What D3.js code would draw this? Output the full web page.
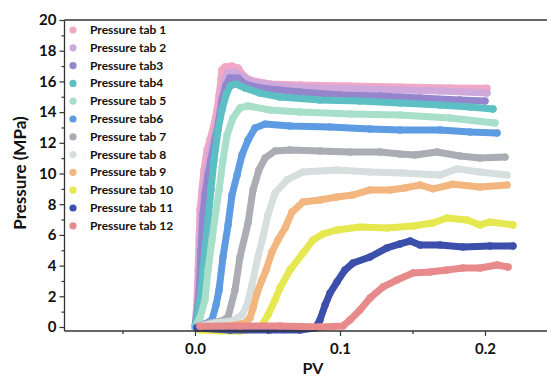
<!DOCTYPE html>
<html><head><meta charset="utf-8">
<script src="https://cdn.jsdelivr.net/npm/d3@7"></script>
<style>
body{margin:0;background:#fff;}
svg{display:block;font-family:Lato, "Open Sans", sans-serif;}
</style></head>
<body><svg id="c" width="547" height="376"></svg>
<script>
const seriesNames = ["Pressure tab 1","Pressure tab 2","Pressure tab3","Pressure tab4","Pressure tab 5","Pressure tab6","Pressure tab 7","Pressure tab 8","Pressure tab 9","Pressure tab 10","Pressure tab 11","Pressure tab 12"];
const seriesColors = ["#f0a8c6","#cfa8dc","#9585cc","#5cbfc4","#a8dfca","#5d9ce2","#abacb4","#d6dfdd","#f2b67e","#e6e850","#3c4fab","#e8898b"];
const xTicks = [0.0, 0.1, 0.2];
const xMinorTicks = [-0.05, 0.05, 0.15];
const yTicks = [0,2,4,6,8,10,12,14,16,18,20];
const yMinorTicks = [1,3,5,7,9,11,13,15,17,19];

const tab1 = [[0,0],[0.0014,1.76],[0.0021,3.71],[0.0028,5.67],[0.0034,7.62],[0.0048,8.93],[0.0062,10.23],[0.0083,11.53],[0.0103,12.18],[0.0131,13.16],[0.0152,14.14],[0.0166,15.11],[0.0179,16.09],[0.0186,16.74],[0.0207,16.94],[0.0255,17.0],[0.0297,16.87],[0.0331,16.42],[0.0379,16.09],[0.0517,15.83],[0.0724,15.77],[0.1069,15.70],[0.1414,15.64],[0.1759,15.57],[0.2014,15.55]];
const tab2 = [[0,0],[0.0021,1.76],[0.0028,3.71],[0.0034,5.67],[0.0048,7.62],[0.0062,8.93],[0.0083,10.23],[0.0103,11.40],[0.0124,12.18],[0.0152,13.16],[0.0172,14.14],[0.0186,15.11],[0.0207,16.09],[0.0228,16.55],[0.0276,16.61],[0.0324,16.35],[0.0393,15.96],[0.0586,15.70],[0.0862,15.57],[0.1138,15.50],[0.1414,15.44],[0.1690,15.37],[0.2014,15.24]];
const tab3 = [[0,0],[0.0021,1.43],[0.0034,3.06],[0.0041,5.02],[0.0055,7.30],[0.0069,8.60],[0.0090,9.90],[0.0110,10.88],[0.0138,12.18],[0.0166,13.49],[0.0186,14.79],[0.0214,15.77],[0.0241,16.22],[0.0297,16.22],[0.0345,15.83],[0.0448,15.57],[0.0724,15.31],[0.1000,15.11],[0.1276,15.05],[0.1552,14.92],[0.1828,14.79],[0.2000,14.72]];
const tab4 = [[0,0],[0.0014,0.78],[0.0034,1.76],[0.0055,3.71],[0.0069,5.02],[0.0090,6.97],[0.0110,8.93],[0.0131,10.88],[0.0159,12.83],[0.0186,14.14],[0.0214,15.11],[0.0241,15.70],[0.0283,15.83],[0.0345,15.57],[0.0448,15.24],[0.0586,14.98],[0.0862,14.79],[0.1138,14.72],[0.1414,14.59],[0.1690,14.46],[0.1897,14.33],[0.2055,14.20]];
const tab5 = [[0,0],[0.0034,0.59],[0.0069,1.76],[0.0090,3.71],[0.0117,5.67],[0.0145,7.62],[0.0166,8.93],[0.0193,10.88],[0.0221,12.51],[0.0262,13.62],[0.0310,14.27],[0.0366,14.40],[0.0517,14.14],[0.0724,14.01],[0.1069,13.88],[0.1414,13.81],[0.1759,13.62],[0.2069,13.29]];
const tab6 = [[0.0007,0],[0.0069,0.20],[0.0117,0.46],[0.0145,1.43],[0.0166,2.41],[0.0193,4.56],[0.0228,6.65],[0.0255,8.60],[0.0290,9.90],[0.0324,11.21],[0.0366,12.18],[0.0414,12.96],[0.0483,13.22],[0.0655,13.09],[0.0931,13.03],[0.1207,12.90],[0.1414,12.83],[0.1690,12.83],[0.1897,12.70],[0.2083,12.64]];
const tab7 = [[0.0021,0.07],[0.0103,0.26],[0.0186,0.39],[0.0228,0.65],[0.0276,2.41],[0.0310,4.56],[0.0366,6.78],[0.0400,8.93],[0.0441,10.23],[0.0483,11.01],[0.0552,11.47],[0.0655,11.53],[0.0862,11.47],[0.1069,11.40],[0.1276,11.40],[0.1414,11.27],[0.1517,11.21],[0.1669,11.40],[0.1828,11.14],[0.1966,11.01],[0.2138,11.07]];
const tab8 = [[0.0034,0.07],[0.0138,0.26],[0.0255,0.39],[0.0324,0.78],[0.0359,1.43],[0.0393,2.74],[0.0434,4.56],[0.0469,5.86],[0.0503,7.30],[0.0552,8.73],[0.0634,9.58],[0.0745,10.10],[0.0979,10.23],[0.1207,10.10],[0.1434,10.03],[0.1690,9.90],[0.1807,10.30],[0.1966,10.10],[0.2152,9.90]];
const tab9 = [[0.0034,0],[0.0241,0.07],[0.0345,0.26],[0.0379,0.59],[0.0400,1.24],[0.0428,2.21],[0.0462,3.06],[0.0490,3.71],[0.0531,4.89],[0.0572,5.67],[0.0621,6.45],[0.0669,7.49],[0.0745,8.14],[0.0862,8.27],[0.0979,8.47],[0.1090,8.60],[0.1207,8.93],[0.1345,8.93],[0.1448,9.06],[0.1552,9.25],[0.1641,9.00],[0.1779,9.30],[0.1966,9.12],[0.2152,9.25]];
const tab10 = [[0.0034,-0.20],[0.0172,-0.26],[0.0310,-0.26],[0.0414,-0.13],[0.0462,0.13],[0.0503,0.78],[0.0552,1.76],[0.0586,2.54],[0.0655,3.71],[0.0745,4.82],[0.0814,5.67],[0.0883,6.06],[0.0979,6.32],[0.1138,6.51],[0.1324,6.45],[0.1503,6.58],[0.1641,6.78],[0.1738,7.10],[0.1876,6.97],[0.1966,6.65],[0.2034,6.84],[0.2193,6.65]];
const tab11 = [[0.0014,-0.07],[0.0241,-0.20],[0.0517,-0.20],[0.0724,-0.20],[0.0828,-0.07],[0.0862,0.46],[0.0897,1.43],[0.0931,2.21],[0.0979,2.93],[0.1034,3.71],[0.1090,4.17],[0.1207,4.56],[0.1324,5.15],[0.1414,5.41],[0.1483,5.60],[0.1552,5.34],[0.1690,5.34],[0.1848,5.21],[0.2034,5.28],[0.2193,5.28]];
const tab12 = [[0.0034,0.05],[0.0310,0.07],[0.0586,0.07],[0.0862,0.0],[0.1021,0.07],[0.1069,0.46],[0.1138,1.11],[0.1207,1.89],[0.1297,2.61],[0.1393,3.06],[0.1503,3.52],[0.1621,3.58],[0.1738,3.71],[0.1848,3.84],[0.1966,3.84],[0.2083,4.04],[0.2159,3.91]];
const allSeries = [tab1,tab2,tab3,tab4,tab5,tab6,tab7,tab8,tab9,tab10,tab11,tab12];

const svg = d3.select("#c");
const x = d3.scaleLinear().domain([-0.09, 0.25]).range([64.5, 557.5]);
const y = d3.scaleLinear().domain([-0.26, 20]).range([331, 20]);

// series
const line = d3.line().x(d => x(d[0])).y(d => y(d[1]));
const gS = svg.append("g");
allSeries.forEach((s, i) => {
  gS.append("path").attr("d", line(s)).attr("fill","none")
    .attr("stroke", seriesColors[i]).attr("stroke-width", 7)
    .attr("stroke-linejoin","round").attr("stroke-linecap","round");
  gS.selectAll(null).data(s).enter().append("circle")
    .attr("cx", d => x(d[0])).attr("cy", d => y(d[1])).attr("r", 3.7)
    .attr("fill", seriesColors[i]);
});

// axes
const fontTick = "bold 15px Lato";
const yAxis = d3.axisLeft(y).tickValues(yTicks).tickSize(5).tickPadding(3).tickFormat(d3.format("d"));
const gy = svg.append("g").attr("transform","translate(64.5,0)").call(yAxis);
gy.select(".domain").attr("d","M0,20V331").attr("stroke","#333").attr("stroke-width",1.3);
const yMinor = d3.axisLeft(y).tickValues(yMinorTicks).tickSize(3).tickFormat("");
const gym = svg.append("g").attr("transform","translate(64.5,0)").call(yMinor);
gym.select(".domain").remove();

const xAxis = d3.axisBottom(x).tickValues(xTicks).tickSize(5).tickPadding(7).tickFormat(d3.format(".1f"));
const gx = svg.append("g").attr("transform","translate(0,331)").call(xAxis);
gx.select(".domain").attr("d","M64.5,0H547").attr("stroke","#333").attr("stroke-width",1.3);
const xMinor = d3.axisBottom(x).tickValues(xMinorTicks).tickSize(3).tickFormat("");
const gxm = svg.append("g").attr("transform","translate(0,331)").call(xMinor);
gxm.select(".domain").remove();

svg.selectAll(".tick line").attr("stroke","#333").attr("stroke-width",1.2);
svg.selectAll(".tick text").style("font", fontTick).attr("fill","#111");

// top frame line
svg.append("line").attr("x1",64.5).attr("x2",547).attr("y1",20).attr("y2",20)
  .attr("stroke","#333").attr("stroke-width",1.3);

// axis titles
svg.append("text").attr("x", 313).attr("y", 374).attr("text-anchor","middle")
  .style("font","bold 16px Lato").attr("fill","#111").text("PV");
svg.append("text").attr("transform","translate(26,173) rotate(-90)").attr("text-anchor","middle")
  .style("font","bold 17px Lato").attr("fill","#111").text("Pressure (MPa)");

// legend
const gL = svg.append("g");
seriesNames.forEach((n, i) => {
  const yy = 30 + i * 17.8;
  gL.append("circle").attr("cx", 73).attr("cy", yy).attr("r", 3.6).attr("fill", seriesColors[i]);
  gL.append("text").attr("x", 90).attr("y", yy + 4).style("font","bold 12px Lato").attr("fill","#111").text(n);
});
</script>
</body></html>
